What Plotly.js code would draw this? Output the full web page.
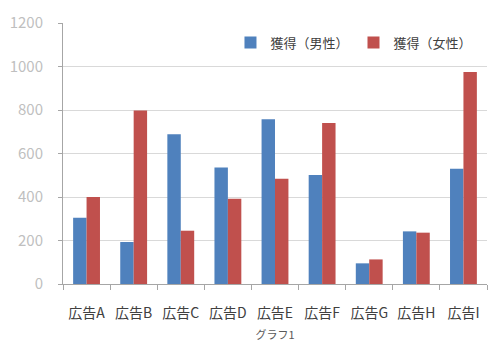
<!DOCTYPE html>
<html><head><meta charset="utf-8">
<script src="https://cdn.plot.ly/plotly-3.0.1.min.js"></script>
<style>body{margin:0;background:#fff}#c{width:500px;height:353px}</style>
</head><body><div id="c"></div>
<script>
const categories = ["広告A","広告B","広告C","広告D","広告E","広告F","広告G","広告H","広告I"];
const male = [305, 193, 688, 536, 757, 501, 95, 242, 530];
const female = [400, 798, 245, 392, 484, 740, 113, 236, 975];
const seriesNames = ["獲得（男性）","獲得（女性）"];
const yTicks = [0,200,400,600,800,1000,1200];

const font = "Noto Sans CJK JP, sans-serif";
const data = [
  {type:"bar", x:categories, y:male, name:seriesNames[0], marker:{color:"#4F81BD"}},
  {type:"bar", x:categories, y:female, name:seriesNames[1], marker:{color:"#C0504D"}}
];
const layout = {
  width:500, height:353,
  margin:{l:63, r:13, t:23, b:69},
  paper_bgcolor:"#fff", plot_bgcolor:"#fff",
  font:{family:font, color:"#404040"},
  barmode:"group", bargap:0.43, bargroupgap:0,
  showlegend:true,
  legend:{orientation:"h", x:0.395, xanchor:"left", y:0.925, yanchor:"middle",
          font:{size:13, color:"#404040", family:font}, bgcolor:"rgba(0,0,0,0)",
          itemwidth:30, tracegroupgap:0},
  xaxis:{
    tickvals:categories, ticktext:categories,
    showline:true, linecolor:"#a6a6a6", linewidth:1,
    ticks:"outside", ticklen:5, tickcolor:"#a6a6a6", tickson:"boundaries",
    tickfont:{size:14, color:"#404040", family:font},
    tickangle:0,
    ticklabelstandoff:16,
    showgrid:false,
    title:{text:"グラフ1", font:{size:11, color:"#595959", family:font}, standoff:10}
  },
  yaxis:{
    range:[0,1200], tickvals:yTicks,
    showline:true, linecolor:"#a6a6a6", linewidth:1,
    ticks:"outside", ticklen:4, tickcolor:"#a6a6a6",
    gridcolor:"#d9d9d9", gridwidth:1, zeroline:false,
    tickfont:{size:15, color:"#bfbfbf", family:font},
    ticklabelstandoff:12
  }
};
Plotly.newPlot("c", data, layout, {staticPlot:true, displayModeBar:false});
</script></body></html>
